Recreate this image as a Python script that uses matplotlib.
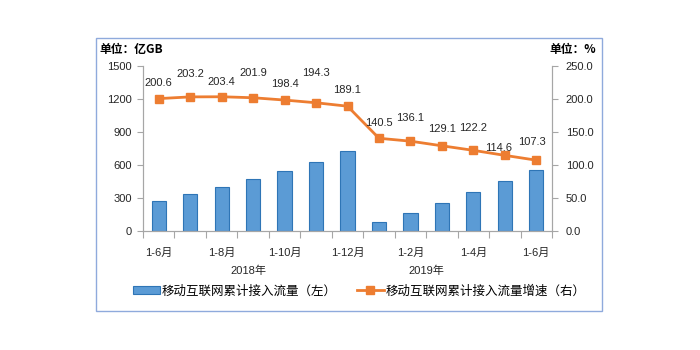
import numpy as np
import matplotlib
matplotlib.use('Agg')
import matplotlib.pyplot as plt
from matplotlib.patches import Rectangle
from matplotlib.lines import Line2D
from matplotlib.ticker import FixedLocator, NullFormatter

plt.rcParams['font.family'] = ['Liberation Sans', 'Noto Sans CJK SC', 'DejaVu Sans']

# 数据
months = ['1-6月', '1-7月', '1-8月', '1-9月', '1-10月', '1-11月', '1-12月',
          '1-1月', '1-2月', '1-3月', '1-4月', '1-5月', '1-6月']
flow = [269, 337, 399, 470, 550, 631, 724, 84, 164, 257, 356, 455, 557]
growth = [200.6, 203.2, 203.4, 201.9, 198.4, 194.3, 189.1,
          140.5, 136.1, 129.1, 122.2, 114.6, 107.3]
years = ['2018年', '2019年']
left_ticks = [0, 300, 600, 900, 1200, 1500]
right_ticks = [0, 50, 100, 150, 200, 250]

# 标签偏移（像素）
lab_dx = [0, 0, 0, 0, 0, 0, 0, 0, 0, 0, 0, -6, -4]
lab_dy = [16, 23, 15, 25, 16, 30, 16, 15, 23, 17, 22, 7, 18]

blue = '#5B9BD5'
orange = '#ED7D31'
grey = '#A6A6A6'

fig = plt.figure(figsize=(7, 3.5), dpi=100)
ax = fig.add_axes([143 / 700, 1 - 231 / 350, (552 - 143) / 700, (231 - 66) / 350])
ax2 = ax.twinx()

x = np.arange(len(months))
ax.bar(x, flow, width=0.45, color=blue, edgecolor='#2E75B6', linewidth=0.8, zorder=2)
ax2.plot(x, growth, color=orange, lw=2, marker='s', markersize=5.5, zorder=3)

for i, v in enumerate(growth):
    ax2.annotate(f'{v:.1f}', (x[i], v), xytext=(lab_dx[i], lab_dy[i]),
                 textcoords='offset pixels', ha='center', va='center', fontsize=8,
                 color='#262626')

ax.set_xlim(-0.5, len(months) - 0.5)
ax.set_ylim(0, 1500)
ax2.set_ylim(0, 250)
ax.set_yticks(left_ticks)
ax.set_yticklabels([str(t) for t in left_ticks])
ax2.set_yticks(right_ticks)
ax2.set_yticklabels([f'{t:.1f}' for t in right_ticks])

# x 轴: 刻度在类别之间, 标签隔一个显示
ax.set_xticks(x[::2])
ax.set_xticklabels(months[::2])
ax.xaxis.set_minor_locator(FixedLocator(np.arange(-0.5, len(months), 1)))
ax.xaxis.set_minor_formatter(NullFormatter())
ax.tick_params(axis='x', which='major', length=0, pad=12, labelsize=8, colors='#262626')
ax.tick_params(axis='x', which='minor', length=5, color=grey, width=0.8)
ax.tick_params(axis='y', length=4, color=grey, labelsize=8, labelcolor='#262626', pad=4)
ax2.tick_params(axis='y', length=4, color=grey, labelsize=8, labelcolor='#262626', pad=6)

for a in (ax, ax2):
    a.spines['top'].set_visible(False)
    for s in ('left', 'right', 'bottom'):
        a.spines[s].set_color(grey)
        a.spines[s].set_linewidth(0.8)

ax.text(2.85, -40 / 165, years[0], transform=ax.get_xaxis_transform(),
        ha='center', va='center', fontsize=8, color='#262626')
ax.text(8.5, -40 / 165, years[1], transform=ax.get_xaxis_transform(),
        ha='center', va='center', fontsize=8, color='#262626')

fig.text(99 / 700, 1 - 50 / 350, '单位：亿GB', ha='left', va='center',
         fontsize=8.5, fontweight='bold', family=['Noto Sans CJK SC', 'DejaVu Sans'])
fig.text(596 / 700, 1 - 49 / 350, '单位：%', ha='right', va='center',
         fontsize=8.5, fontweight='bold', family=['Noto Sans CJK SC', 'DejaVu Sans'])

handles = [Rectangle((0, 0), 1, 1, facecolor=blue, edgecolor='#2E75B6', lw=0.8),
           Line2D([], [], color=orange, lw=2, marker='s', markersize=5.5)]
fig.legend(handles, ['移动互联网累计接入流量（左）', '移动互联网累计接入流量增速（右）'],
           loc='center', bbox_to_anchor=(359 / 700, 1 - 291 / 350), ncol=2,
           frameon=False, handlelength=2.2, handleheight=0.6,
           handletextpad=0.1, columnspacing=1.6,
           prop={'family': ['Noto Sans CJK SC', 'DejaVu Sans'], 'size': 9})

fig.add_artist(Rectangle((96 / 700, 1 - 311 / 350), (602 - 96) / 700, (311 - 38) / 350,
                         transform=fig.transFigure, fill=False, edgecolor='#8FAADC', lw=1))

fig.savefig('out.png', dpi=100, facecolor='white')
